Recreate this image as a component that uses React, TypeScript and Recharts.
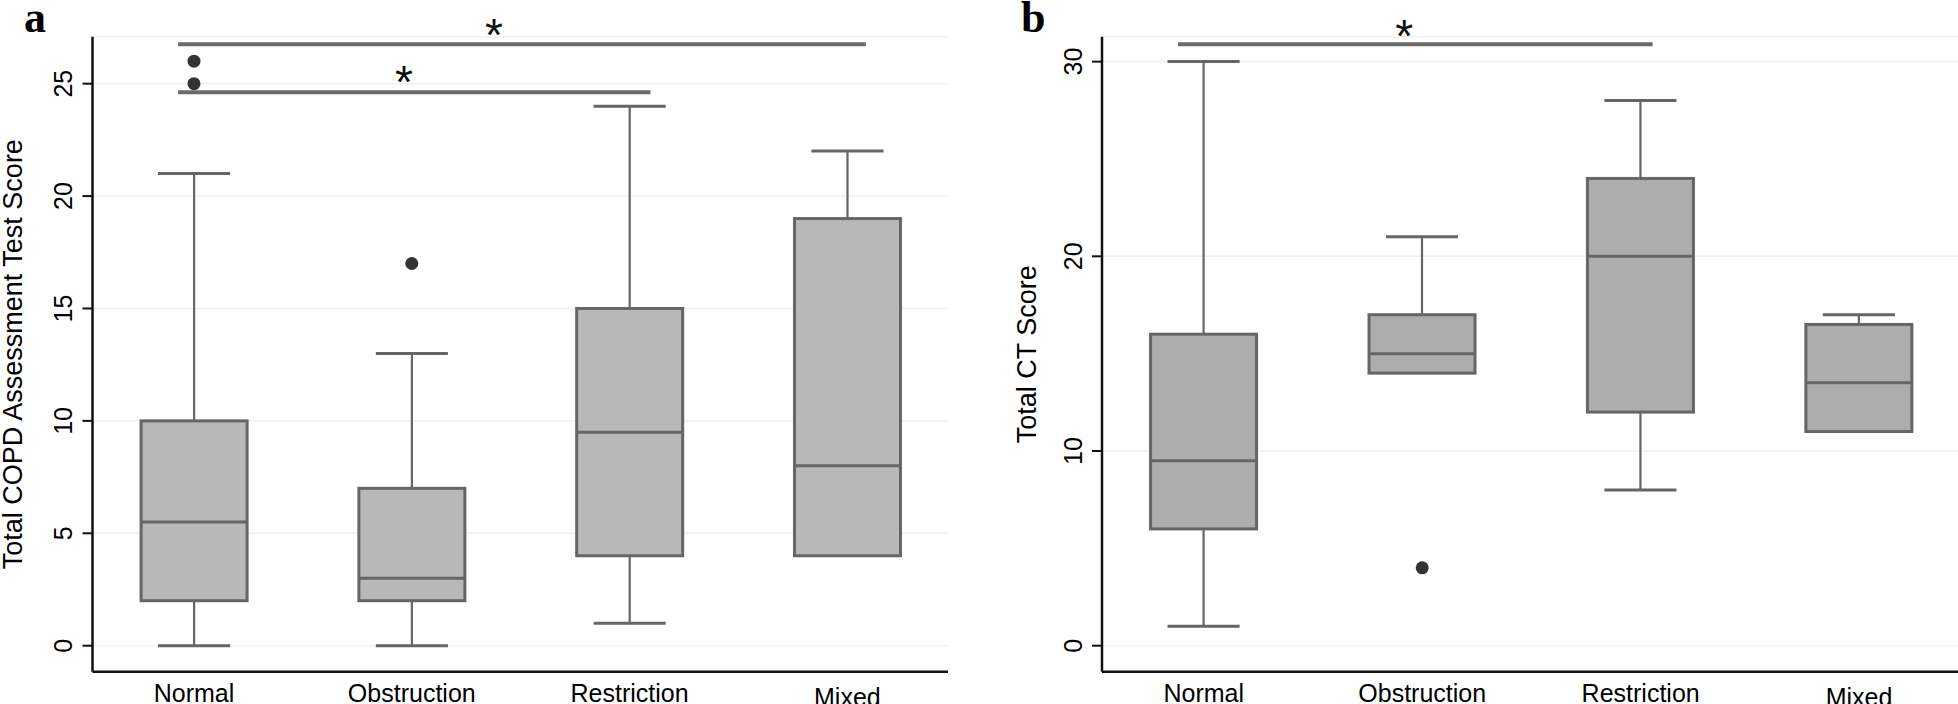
import React from 'react';
import {
  ComposedChart,
  Bar,
  Scatter,
  XAxis,
  YAxis,
  CartesianGrid,
  ReferenceLine,
  ReferenceDot,
} from 'recharts';

// categories on the x axis, plotted at positions 1..4
const categories = ['Normal', 'Obstruction', 'Restriction', 'Mixed'];
const positions = [1, 2, 3, 4];
const xDomain: [number, number] = [0.534, 4.462];

// panel a: Total COPD Assessment Test Score
const catMin = [0, 0, 1, 4];
const catQ1 = [2, 2, 4, 4];
const catMedian = [5.5, 3, 9.5, 8];
const catQ3 = [10, 7, 15, 19];
const catMax = [21, 13, 24, 22];
const catOutliers = [
  { pos: 1, value: 25 },
  { pos: 1, value: 26 },
  { pos: 2, value: 17 },
];
const catTicks = [0, 5, 10, 15, 20, 25];
const catSig = [
  { from: 0.927, to: 4.085, value: 26.75 },
  { from: 0.927, to: 3.096, value: 24.62 },
];
const catStars = [
  { pos: 2.377, value: 27.59 },
  { pos: 1.964, value: 25.5 },
];

// panel b: Total CT Score
const ctMin = [1, 14, 8, 11];
const ctQ1 = [6, 14, 12, 11];
const ctMedian = [9.5, 15, 20, 13.5];
const ctQ3 = [16, 17, 24, 16.5];
const ctMax = [30, 21, 28, 17];
const ctOutliers = [{ pos: 2, value: 4 }];
const ctTicks = [0, 10, 20, 30];
const ctSig = [{ from: 0.882, to: 3.055, value: 30.89 }];
const ctStars = [{ pos: 1.918, value: 31.83 }];

const FONT = '"Liberation Sans", Arial, Helvetica, sans-serif';
const EDGE = '#666666';

const buildRows = (mn: number[], q1: number[], med: number[], q3: number[], mx: number[]) =>
  positions.map((pos, i) => ({
    pos,
    name: categories[i],
    min: mn[i],
    q1: q1[i],
    median: med[i],
    q3: q3[i],
    max: mx[i],
  }));

const BoxShape = (props: any) => {
  const { x, y, width, height, payload, boxFill } = props;
  if (!payload || height == null) return null;
  const top = Math.min(y, y + height);
  const h = Math.abs(height);
  const span = payload.max - payload.min;
  const yOf = (v: number) => top + (h * (payload.max - v)) / span;
  const cx = x + width / 2;
  const cap = width * 0.34;
  return (
    <g>
      <line x1={cx} x2={cx} y1={yOf(payload.max)} y2={yOf(payload.q3)} stroke={EDGE} strokeWidth={2.2} />
      <line x1={cx - cap} x2={cx + cap} y1={yOf(payload.max)} y2={yOf(payload.max)} stroke={EDGE} strokeWidth={3} />
      {payload.min < payload.q1 && (
        <g>
          <line x1={cx} x2={cx} y1={yOf(payload.q1)} y2={yOf(payload.min)} stroke={EDGE} strokeWidth={2.2} />
          <line x1={cx - cap} x2={cx + cap} y1={yOf(payload.min)} y2={yOf(payload.min)} stroke={EDGE} strokeWidth={3} />
        </g>
      )}
      <rect
        x={x}
        y={yOf(payload.q3)}
        width={width}
        height={yOf(payload.q1) - yOf(payload.q3)}
        fill={boxFill}
        stroke={EDGE}
        strokeWidth={3}
      />
      <line x1={x} x2={x + width} y1={yOf(payload.median)} y2={yOf(payload.median)} stroke={EDGE} strokeWidth={3} />
    </g>
  );
};

const OutlierDot = (props: any) => <circle cx={props.cx} cy={props.cy} r={6.5} fill="#333333" />;

const StarMark = (props: any) => (
  <text x={props.cx} y={props.cy + 26} textAnchor="middle" fontFamily={FONT} fontSize={46} fill="#111">
    *
  </text>
);

const renderXTick = (props: any) => {
  const { x, y, payload } = props;
  const i = positions.indexOf(payload.value);
  const drop = payload.value === 4 ? 4 : 0;
  return (
    <text x={x} y={y + 30 + drop} textAnchor="middle" fontFamily={FONT} fontSize={25} fill="#000">
      {categories[i]}
    </text>
  );
};

// y tick: short mark left of the axis line and a label reading upwards
const YTickMark = (props: any) => {
  const { cx, cy, label } = props;
  return (
    <g>
      <line x1={cx - 10} x2={cx} y1={cy} y2={cy} stroke="#111" strokeWidth={2} />
      <text
        transform={`translate(${cx - 20.5},${cy}) rotate(-90)`}
        textAnchor="middle"
        fontFamily={FONT}
        fontSize={25}
        fill="#000"
      >
        {label}
      </text>
    </g>
  );
};

interface PanelProps {
  rows: any[];
  outliers: { pos: number; value: number }[];
  ticks: number[];
  domain: [number, number];
  sig: { from: number; to: number; value: number }[];
  stars: { pos: number; value: number }[];
  axisWidth: number;
  marginRight: number;
  boxFill: string;
}

const Panel: React.FC<PanelProps> = (p) => (
  <ComposedChart
    width={980}
    height={704}
    data={p.rows}
    margin={{ top: 36.7, right: p.marginRight, bottom: 2.3, left: p.axisWidth }}
  >
    <CartesianGrid horizontal vertical={false} stroke="#efefef" strokeWidth={1.5} />
    <XAxis
      dataKey="pos"
      type="number"
      domain={xDomain}
      ticks={positions}
      allowDataOverflow
      height={30}
      tickSize={0}
      tickMargin={0}
      tickLine={false}
      axisLine={{ stroke: '#111', strokeWidth: 2.5 }}
      tick={renderXTick}
    />
    <YAxis type="number" domain={p.domain} ticks={p.ticks} allowDataOverflow hide />
    <ReferenceLine x={xDomain[0]} stroke="#111" strokeWidth={2.5} ifOverflow="visible" />
    {p.ticks.map((t) => (
      <ReferenceDot
        key={`yt-${t}`}
        x={xDomain[0]}
        y={t}
        r={0}
        ifOverflow="visible"
        shape={(s: any) => <YTickMark {...s} label={t} />}
      />
    ))}
    <Bar
      dataKey={(d: any) => [d.min, d.max]}
      barSize={106}
      shape={(s: any) => <BoxShape {...s} boxFill={p.boxFill} />}
      isAnimationActive={false}
    />
    <Scatter data={p.outliers} dataKey="value" shape={<OutlierDot />} isAnimationActive={false} />
    {p.sig.map((s, i) => (
      <ReferenceLine
        key={`sig-${i}`}
        segment={[
          { x: s.from, y: s.value },
          { x: s.to, y: s.value },
        ]}
        stroke="#6b6b6b"
        strokeWidth={4}
        ifOverflow="visible"
      />
    ))}
    {p.stars.map((s, i) => (
      <ReferenceDot key={`star-${i}`} x={s.pos} y={s.value} r={0} ifOverflow="visible" shape={StarMark} />
    ))}
  </ComposedChart>
);

const plotMidY = (36.7 + 671.7) / 2;

export default function App() {
  return (
    <div style={{ position: 'relative', width: 1958, height: 704, overflow: 'hidden', background: '#fff' }}>
      <style>{'body{margin:0}'}</style>
      <div style={{ position: 'absolute', left: 0, top: 0 }}>
        <Panel
          rows={buildRows(catMin, catQ1, catMedian, catQ3, catMax)}
          outliers={catOutliers}
          ticks={catTicks}
          domain={[-1.157, 27.09]}
          sig={catSig}
          stars={catStars}
          axisWidth={92.5}
          marginRight={32}
          boxFill="#b8b8b8"
        />
      </div>
      <div style={{ position: 'absolute', left: 980, top: 0 }}>
        <Panel
          rows={buildRows(ctMin, ctQ1, ctMedian, ctQ3, ctMax)}
          outliers={ctOutliers}
          ticks={ctTicks}
          domain={[-1.335, 31.28]}
          sig={ctSig}
          stars={ctStars}
          axisWidth={122}
          marginRight={0}
          boxFill="#adadad"
        />
      </div>
      <svg
        width={1958}
        height={704}
        style={{ position: 'absolute', left: 0, top: 0, pointerEvents: 'none' }}
      >
        <text x={24} y={32} fontFamily='"Liberation Serif", "Times New Roman", serif' fontWeight="bold" fontSize={44}>
          a
        </text>
        <text x={1021} y={32} fontFamily='"Liberation Serif", "Times New Roman", serif' fontWeight="bold" fontSize={44}>
          b
        </text>
        <text
          transform={`translate(22,${plotMidY}) rotate(-90)`}
          textAnchor="middle"
          fontFamily={FONT}
          fontSize={27}
          fill="#000"
        >
          Total COPD Assessment Test Score
        </text>
        <text
          transform={`translate(1036,${plotMidY}) rotate(-90)`}
          textAnchor="middle"
          fontFamily={FONT}
          fontSize={27}
          fill="#000"
        >
          Total CT Score
        </text>
      </svg>
    </div>
  );
}
